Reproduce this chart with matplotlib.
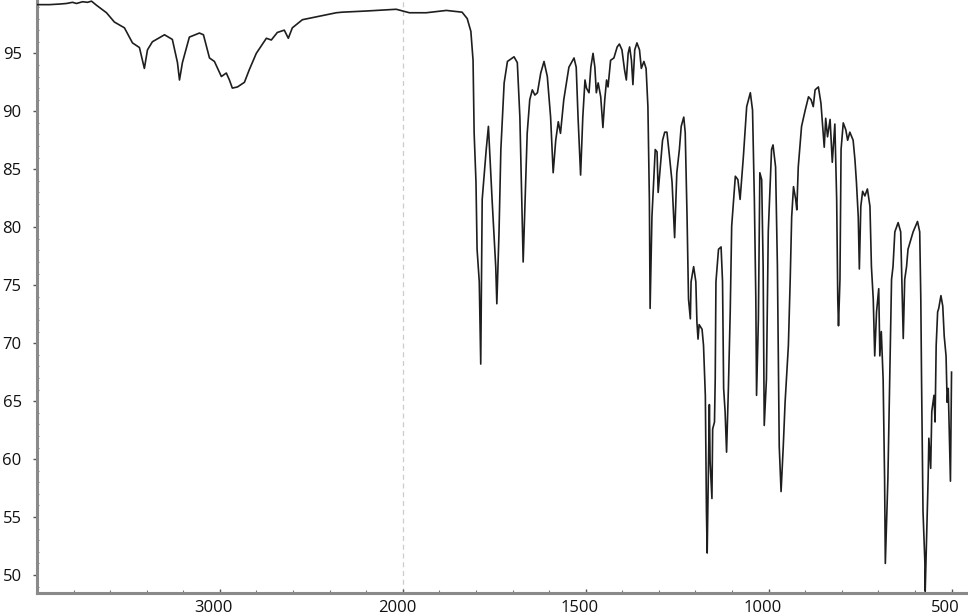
import numpy as np
import matplotlib
matplotlib.use("Agg")
import matplotlib.pyplot as plt
import matplotlib.transforms as mtransforms

plt.rcParams['font.family'] = ['Open Sans', 'DejaVu Sans']

# 4000-2000 cm-1 (half scale part)
wn_high = [4000, 3932, 3877, 3839, 3806, 3784, 3751, 3724, 3702, 3675,
           3620, 3577, 3522, 3478, 3440, 3413, 3396, 3369, 3303, 3260,
           3232, 3221, 3205, 3167, 3112, 3090, 3057, 3030, 2992, 2965,
           2948, 2932, 2904, 2866, 2839, 2801, 2746, 2719, 2686, 2648,
           2626, 2604, 2549, 2456, 2364, 2331, 2200, 2036]
t_high = [99.2, 99.2, 99.25, 99.3, 99.4, 99.3, 99.45, 99.4, 99.5, 99.15,
          98.5, 97.7, 97.2, 95.9, 95.5, 93.7, 95.3, 96.0, 96.6, 96.2,
          94.2, 92.7, 94.2, 96.4, 96.75, 96.6, 94.6, 94.3, 93.0, 93.3,
          92.7, 92.0, 92.1, 92.5, 93.6, 95.0, 96.3, 96.15, 96.8, 97.0,
          96.3, 97.2, 97.9, 98.2, 98.5, 98.55, 98.65, 98.8]

# 2000-500 cm-1
wn_low = [1982, 1936, 1881, 1838, 1824, 1814, 1808, 1805, 1800, 1797,
          1791, 1787, 1783, 1772, 1766, 1756, 1746, 1743, 1737, 1732,
          1723, 1714, 1696, 1687, 1680, 1675, 1671, 1664, 1660, 1653,
          1646, 1639, 1632, 1623, 1614, 1605, 1596, 1589, 1582, 1575,
          1569, 1560, 1546, 1532, 1526, 1521, 1514, 1508, 1502, 1498,
          1491, 1486, 1480, 1475, 1471, 1466, 1459, 1453, 1448, 1443,
          1439, 1432, 1423, 1414, 1408, 1401, 1394, 1389, 1384, 1380,
          1375, 1371, 1366, 1360, 1353, 1348, 1341, 1335, 1330, 1326,
          1324, 1319, 1310, 1305, 1302, 1296, 1290, 1284, 1278, 1271,
          1264, 1257, 1251, 1244, 1239, 1232, 1228, 1223, 1219, 1214,
          1212, 1205, 1199, 1196, 1193, 1190, 1182, 1178, 1173, 1170,
          1168, 1162, 1160, 1155, 1153, 1148, 1146, 1144, 1137, 1130,
          1126, 1123, 1119, 1115, 1110, 1105, 1101, 1091, 1084, 1078,
          1069, 1060, 1050, 1044, 1039, 1035, 1033, 1028, 1024, 1019,
          1015, 1012, 1006, 1001, 992, 988, 981, 976, 971, 966,
          960, 955, 946, 941, 937, 932, 926, 923, 919, 910,
          900, 891, 884, 878, 873, 864, 857, 853, 848, 844,
          839, 832, 826, 819, 814, 811, 809, 805, 802, 796,
          789, 784, 778, 769, 764, 760, 755, 752, 748, 743,
          737, 730, 723, 719, 714, 710, 705, 699, 696, 692,
          687, 683, 681, 674, 669, 664, 660, 655, 646, 639,
          632, 628, 623, 619, 605, 593, 587, 584, 582, 578,
          573, 572, 569, 564, 562, 557, 554, 548, 545, 542,
          538, 535, 529, 524, 520, 515, 512, 509, 503, 500]
t_low = [98.5, 98.5, 98.7, 98.55, 98.0, 96.9, 94.4, 88.1, 83.9, 78.1,
         75.3, 68.2, 82.4, 86.7, 88.7, 82.4, 76.6, 73.4, 79.6, 86.7,
         92.45, 94.3, 94.7, 94.2, 89.5, 82.4, 77.0, 83.9, 88.1, 91.0,
         91.85, 91.4, 91.6, 93.3, 94.3, 93.0, 89.5, 84.7, 87.5, 89.1,
         88.1, 91.0, 93.8, 94.6, 93.8, 89.5, 84.5, 89.5, 92.7, 92.0,
         91.6, 93.8, 95.0, 93.8, 91.6, 92.45, 91.25, 88.6, 91.0, 92.7,
         92.1, 94.4, 94.6, 95.55, 95.8, 95.3, 93.6, 92.7, 95.0, 95.55,
         94.4, 92.3, 95.3, 95.9, 95.3, 93.7, 94.3, 93.7, 90.4, 82.4,
         73.0, 80.9, 86.7, 86.5, 83.0, 85.2, 87.5, 88.2, 88.2, 86.1,
         83.9, 79.1, 84.7, 86.7, 88.7, 89.5, 88.15, 80.9, 73.8, 72.1,
         75.3, 76.6, 75.3, 71.8, 70.35, 71.6, 71.2, 69.8, 65.45, 55.5,
         51.9, 64.7, 59.8, 56.6, 62.6, 63.2, 66.9, 75.3, 78.1, 78.3,
         75.3, 66.1, 64.1, 60.6, 66.1, 72.7, 80.1, 84.4, 84.1, 82.4,
         86.1, 90.4, 91.6, 90.1, 82.4, 73.8, 65.5, 72.1, 84.7, 84.1,
         76.6, 62.9, 66.9, 79.6, 86.7, 87.1, 85.2, 76.6, 61.1, 57.2,
         61.1, 64.9, 69.8, 75.5, 80.9, 83.5, 82.4, 81.5, 85.2, 88.7,
         90.1, 91.25, 91.0, 90.4, 91.85, 92.1, 90.7, 89.0, 86.9, 89.4,
         87.8, 89.3, 85.6, 88.9, 82.4, 73.8, 71.5, 75.5, 86.7, 89.0,
         88.4, 87.5, 88.2, 87.5, 85.8, 83.9, 80.9, 76.4, 81.8, 83.1,
         82.7, 83.3, 81.8, 76.6, 73.8, 68.9, 72.7, 74.7, 68.9, 71.0,
         66.9, 58.3, 51.0, 58.3, 66.9, 75.5, 76.6, 79.6, 80.4, 79.6,
         70.4, 75.5, 76.6, 78.1, 79.6, 80.5, 79.6, 73.8, 66.9, 55.5,
         51.2, 48.6, 52.2, 58.3, 61.8, 59.2, 64.1, 65.5, 63.2, 69.8,
         72.7, 73.0, 74.1, 73.2, 70.6, 68.9, 64.9, 66.1, 58.1, 67.5]

xticks = [3000, 2000, 1500, 1000, 500]
yticks = [50, 55, 60, 65, 70, 75, 80, 85, 90, 95]

wavenumber = np.array(wn_high + wn_low, dtype=float)
transmittance = np.array(t_high + t_low, dtype=float)


# scale change at 2000 cm-1: region above 2000 is compressed by half
def fwd(w):
    w = np.asarray(w, dtype=float)
    return np.where(w > 2000, 2000 + (w - 2000) / 2.0, w)


def inv(u):
    u = np.asarray(u, dtype=float)
    return np.where(u > 2000, 2000 + (u - 2000) * 2.0, u)


fig = plt.figure(figsize=(9.68, 6.14), dpi=100)
ax = fig.add_axes([37 / 968, 21 / 614, 931 / 968, 593 / 614])
ax.set_xscale('function', functions=(fwd, inv))

ax.axvline(2000, color='#cccccc', lw=0.9, ls=(0, (4, 3)), zorder=1)
ax.plot(wavenumber, transmittance, color='#1e1e1e', lw=1.2, zorder=3)

ax.set_xlim(4000, 455)
ax.set_ylim(48.45, 99.6)
ax.set_xticks(xticks)
ax.set_xticklabels([str(t) for t in xticks])
minor_x = list(range(3800, 2000, -200)) + list(range(1900, 455, -100))
ax.set_xticks(minor_x, minor=True)
ax.set_yticks(yticks)
ax.set_yticklabels([str(t) for t in yticks])
ax.set_yticks(np.arange(49, 99.6, 1.0), minor=True)

for side in ['top', 'right']:
    ax.spines[side].set_visible(False)
for side in ['left', 'bottom']:
    ax.spines[side].set_color('#8a8a8a')
    ax.spines[side].set_linewidth(2.2)
    ax.spines[side].set_linestyle((0, (1, 0.7)))

ax.tick_params(axis='y', which='major', direction='out', length=3, width=1,
               color='#555555', labelsize=12, pad=8, labelcolor='#111111')
ax.tick_params(axis='y', which='minor', direction='in', length=1.5, width=0.8,
               color='#777777')
ax.tick_params(axis='x', which='major', direction='in', length=3, width=1,
               color='#555555', labelsize=12, pad=5, labelcolor='#111111')
ax.tick_params(axis='x', which='minor', direction='in', length=2, width=0.8,
               color='#777777')

# labels on the scan sit a little left of their ticks
shift = mtransforms.ScaledTranslation(-6 / 100, 0, fig.dpi_scale_trans)
for lab in ax.get_xticklabels():
    lab.set_transform(lab.get_transform() + shift)

fig.savefig('out.png', dpi=100)
